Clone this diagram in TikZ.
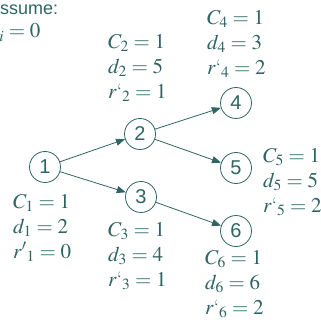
\documentclass[tikz,border=0pt]{standalone}
\usepackage{mathptmx}
\usepackage{fontspec}
\setsansfont{Liberation Sans}
\usetikzlibrary{arrows.meta}
\definecolor{tealc}{HTML}{2F6464}
\begin{document}
\begin{tikzpicture}[x=1pt,y=-1pt,
  every node/.style={text=tealc},
  nd/.style={circle,draw=tealc,line width=0.8pt,minimum size=31pt,inner sep=0pt,font=\sffamily\fontsize{20}{20}\selectfont},
  lbl/.style={align=left,font=\fontsize{21}{25}\selectfont,inner sep=0pt,anchor=north west},
  arr/.style={draw=tealc,line width=0.8pt,-{Triangle[length=9pt,width=7pt]}}]
\useasboundingbox (0,0) rectangle (320,320);
\node[font=\sffamily\fontsize{18}{18}\selectfont,anchor=base west,inner sep=0pt] (as) at (-12,15) {Assume:};
\node[font=\fontsize{21}{21}\selectfont,anchor=base west,inner sep=0pt] (ri) at (-9,38) {$r_i = 0$};
\node[nd] (n1) at (45,167) {1};
\node[nd] (n2) at (140,134) {2};
\node[nd] (n3) at (141,197) {3};
\node[nd] (n4) at (236,103) {4};
\node[nd] (n5) at (236,168) {5};
\node[nd] (n6) at (236,231) {6};
\draw[arr] (n1) -- (n2);
\draw[arr] (n1) -- (n3);
\draw[arr] (n2) -- (n4);
\draw[arr] (n2) -- (n5);
\draw[arr] (n3) -- (n6);
\node[lbl] (l1) at (13,194) {$C_1 = 1$\\$d_1 = 2$\\$r'{}_1 = 0$};
\node[lbl] (l2) at (108,34) {$C_2 = 1$\\$d_2 = 5$\\$r\mbox{`}_2 = 1$};
\node[lbl] (l3) at (108,222) {$C_3 = 1$\\$d_3 = 4$\\$r\mbox{`}_3 = 1$};
\node[lbl] (l4) at (207,10) {$C_4 = 1$\\$d_4 = 3$\\$r\mbox{`}_4 = 2$};
\node[lbl] (l5) at (263,148) {$C_5 = 1$\\$d_5 = 5$\\$r\mbox{`}_5 = 2$};
\node[lbl] (l6) at (205,250) {$C_6 = 1$\\$d_6 = 6$\\$r\mbox{`}_6 = 2$};
\end{tikzpicture}
\end{document}
